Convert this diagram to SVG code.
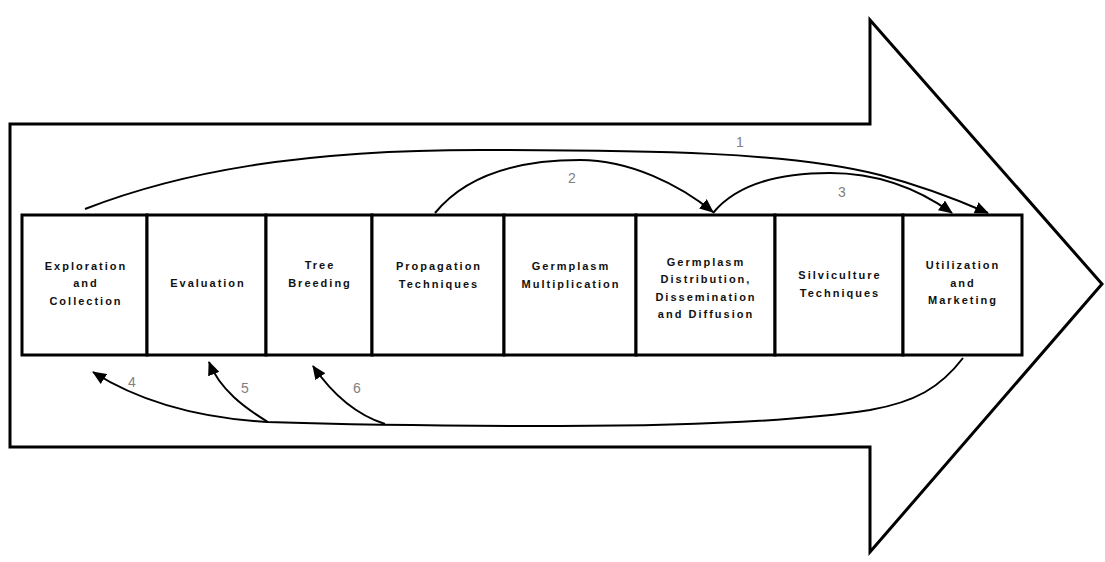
<svg xmlns="http://www.w3.org/2000/svg" width="1105" height="562" viewBox="0 0 1105 562">
<style>
.bg{fill:#fff}
.outline{fill:#fff;stroke:#000;stroke-width:3;stroke-linejoin:miter}
.box{fill:#fff;stroke:#000;stroke-width:3}
.t{font-family:"Liberation Sans",Arial,sans-serif;font-weight:bold;font-size:11px;letter-spacing:2px;fill:#111;text-anchor:middle}
.c{fill:none;stroke:#000;stroke-width:2}
.n{font-family:"Liberation Sans",Arial,sans-serif;font-size:14px;fill:#808080;text-anchor:middle}
</style>
<defs>
<marker id="ah" markerUnits="userSpaceOnUse" markerWidth="14" markerHeight="12" refX="13" refY="6" orient="auto">
<path d="M0,0 L14,6 L0,12 Z" fill="#000"/>
</marker>
</defs>
<rect class="bg" x="0" y="0" width="1105" height="562"/>
<polygon class="outline" points="10,124 870,124 870,20 1102,284 870,552 870,447 10,447"/>
<g id="n1"><rect class="box" x="22" y="215" width="125" height="140"/>
<text class="t"><tspan x="86" y="270">Exploration</tspan><tspan x="86" y="287">and</tspan><tspan x="86" y="305">Collection</tspan></text></g>
<g id="n2"><rect class="box" x="147" y="215" width="119" height="140"/>
<text class="t"><tspan x="208" y="287">Evaluation</tspan></text></g>
<g id="n3"><rect class="box" x="266" y="215" width="106" height="140"/>
<text class="t"><tspan x="320" y="269">Tree</tspan><tspan x="320" y="287">Breeding</tspan></text></g>
<g id="n4"><rect class="box" x="372" y="215" width="132" height="140"/>
<text class="t"><tspan x="439" y="270">Propagation</tspan><tspan x="439" y="288">Techniques</tspan></text></g>
<g id="n5"><rect class="box" x="504" y="215" width="132" height="140"/>
<text class="t"><tspan x="571" y="270">Germplasm</tspan><tspan x="571" y="288">Multiplication</tspan></text></g>
<g id="n6"><rect class="box" x="636" y="215" width="139" height="140"/>
<text class="t"><tspan x="706" y="266">Germplasm</tspan><tspan x="706" y="283">Distribution,</tspan><tspan x="706" y="301">Dissemination</tspan><tspan x="706" y="318">and Diffusion</tspan></text></g>
<g id="n7"><rect class="box" x="775" y="215" width="128" height="140"/>
<text class="t"><tspan x="840" y="279">Silviculture</tspan><tspan x="840" y="297">Techniques</tspan></text></g>
<g id="n8"><rect class="box" x="903" y="215" width="119" height="140"/>
<text class="t"><tspan x="963" y="269">Utilization</tspan><tspan x="963" y="287">and</tspan><tspan x="963" y="304">Marketing</tspan></text></g>
<g id="connectors">
<path class="c" marker-end="url(#ah)" d="M85,209 C180,172 300,150 480,150 C650,150 790,152 880,175 C930,188 965,203 988,213"/>
<path class="c" marker-end="url(#ah)" d="M435,213 C470,170 530,160 580,160 C630,160 680,185 713,212"/>
<path class="c" marker-end="url(#ah)" d="M713,213 C740,180 790,173 830,173 C880,173 920,190 952,213"/>
<path class="c" marker-end="url(#ah)" d="M963,358 C940,388 915,402 870,410 C790,422 690,426 560,426 C430,426 330,424 267,422 C200,418 140,402 93,372"/>
<path class="c" marker-end="url(#ah)" d="M268,422 C245,408 220,390 209,362"/>
<path class="c" marker-end="url(#ah)" d="M385,424 C360,416 335,398 313,366"/>
<text class="n" x="740" y="147">1</text>
<text class="n" x="572" y="183">2</text>
<text class="n" x="842" y="197">3</text>
<text class="n" x="132" y="387">4</text>
<text class="n" x="245" y="393">5</text>
<text class="n" x="357" y="393">6</text>
</g>
</svg>
